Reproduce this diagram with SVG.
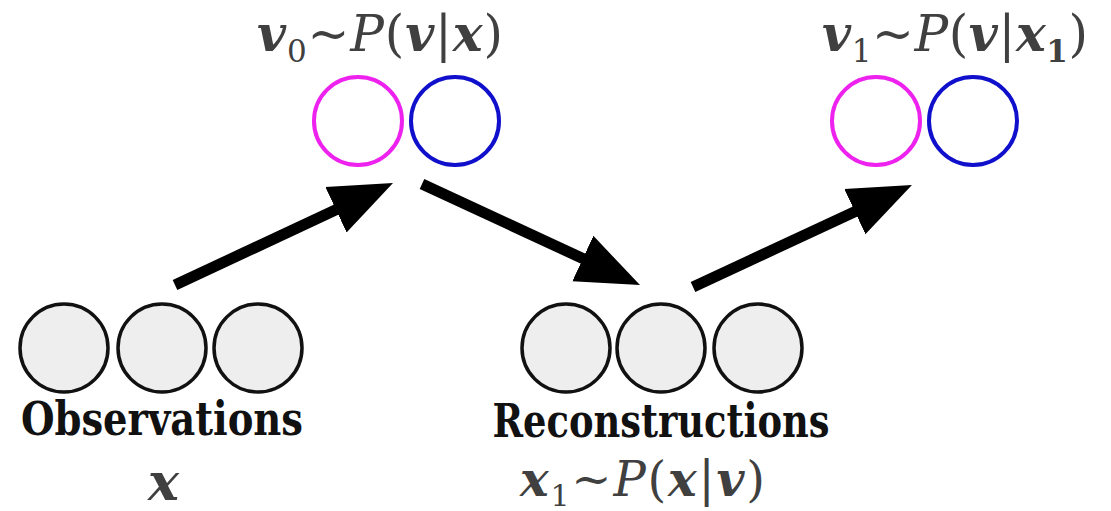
<svg xmlns="http://www.w3.org/2000/svg" width="1111" height="511" viewBox="0 0 1111 511">
<style>
.unit{fill:#eeeeee;stroke:#111;stroke-width:3.5}
.mag{fill:#fff;stroke:#ee22ee;stroke-width:4}
.blu{fill:#fff;stroke:#1010cc;stroke-width:4}
.lbl{font-family:'DejaVu Serif Condensed','DejaVu Serif',serif;font-weight:bold;fill:#111}
.math{font-family:'DejaVu Serif',serif;fill:#404040}
.bi{font-weight:bold;font-style:italic}
.it{font-style:italic}
.arr{stroke:#000;stroke-width:11;fill:none;marker-end:url(#head)}
</style>
<defs>
<marker id="head" markerUnits="userSpaceOnUse" markerWidth="64" markerHeight="52" viewBox="0 0 64 52" refX="23" refY="26" orient="auto">
<path d="M0,1 L63,26 L0,51 z" fill="#000"/>
</marker>
</defs>
<g id="connectors">
<line class="arr" x1="175" y1="285" x2="356.8" y2="200"/>
<line class="arr" x1="422" y1="184" x2="603.7" y2="268.2"/>
<line class="arr" x1="693" y1="287" x2="875.7" y2="201.9"/>
</g>
<g id="hidden0">
<circle class="mag" cx="358" cy="121" r="44"/>
<circle class="blu" cx="455" cy="121" r="44"/>
<text class="math" x="257" y="51" font-size="50" textLength="246"><tspan class="bi">v</tspan><tspan font-size="31" dy="11">0</tspan><tspan dy="-11">~</tspan><tspan class="it">P</tspan>(<tspan class="bi">v</tspan>|<tspan class="bi">x</tspan>)</text>
</g>
<g id="hidden1">
<circle class="mag" cx="876" cy="121" r="44"/>
<circle class="blu" cx="973" cy="121" r="44"/>
<text class="math" x="822" y="51" font-size="50" textLength="266"><tspan class="bi">v</tspan><tspan font-size="31" dy="11">1</tspan><tspan dy="-11">~</tspan><tspan class="it">P</tspan>(<tspan class="bi">v</tspan>|<tspan class="bi">x</tspan><tspan font-size="31" font-weight="bold" dy="11">1</tspan><tspan dy="-11">)</tspan></text>
</g>
<g id="observations">
<circle class="unit" cx="64" cy="348" r="44"/>
<circle class="unit" cx="162" cy="348" r="44"/>
<circle class="unit" cx="258" cy="348" r="44"/>
<text class="lbl" x="162" y="435" font-size="46" text-anchor="middle" textLength="282" lengthAdjust="spacingAndGlyphs">Observations</text>
<text class="math bi" x="148" y="500" font-size="52">x</text>
</g>
<g id="reconstructions">
<circle class="unit" cx="566" cy="348" r="44"/>
<circle class="unit" cx="661" cy="348" r="44"/>
<circle class="unit" cx="758" cy="348" r="44"/>
<text class="lbl" x="661" y="437" font-size="46" text-anchor="middle" textLength="337" lengthAdjust="spacingAndGlyphs">Reconstructions</text>
<text class="math" x="520" y="496" font-size="48" textLength="245"><tspan class="bi">x</tspan><tspan font-size="30" dy="10">1</tspan><tspan dy="-10">~</tspan><tspan class="it">P</tspan>(<tspan class="bi">x</tspan>|<tspan class="bi">v</tspan>)</text>
</g>
</svg>
